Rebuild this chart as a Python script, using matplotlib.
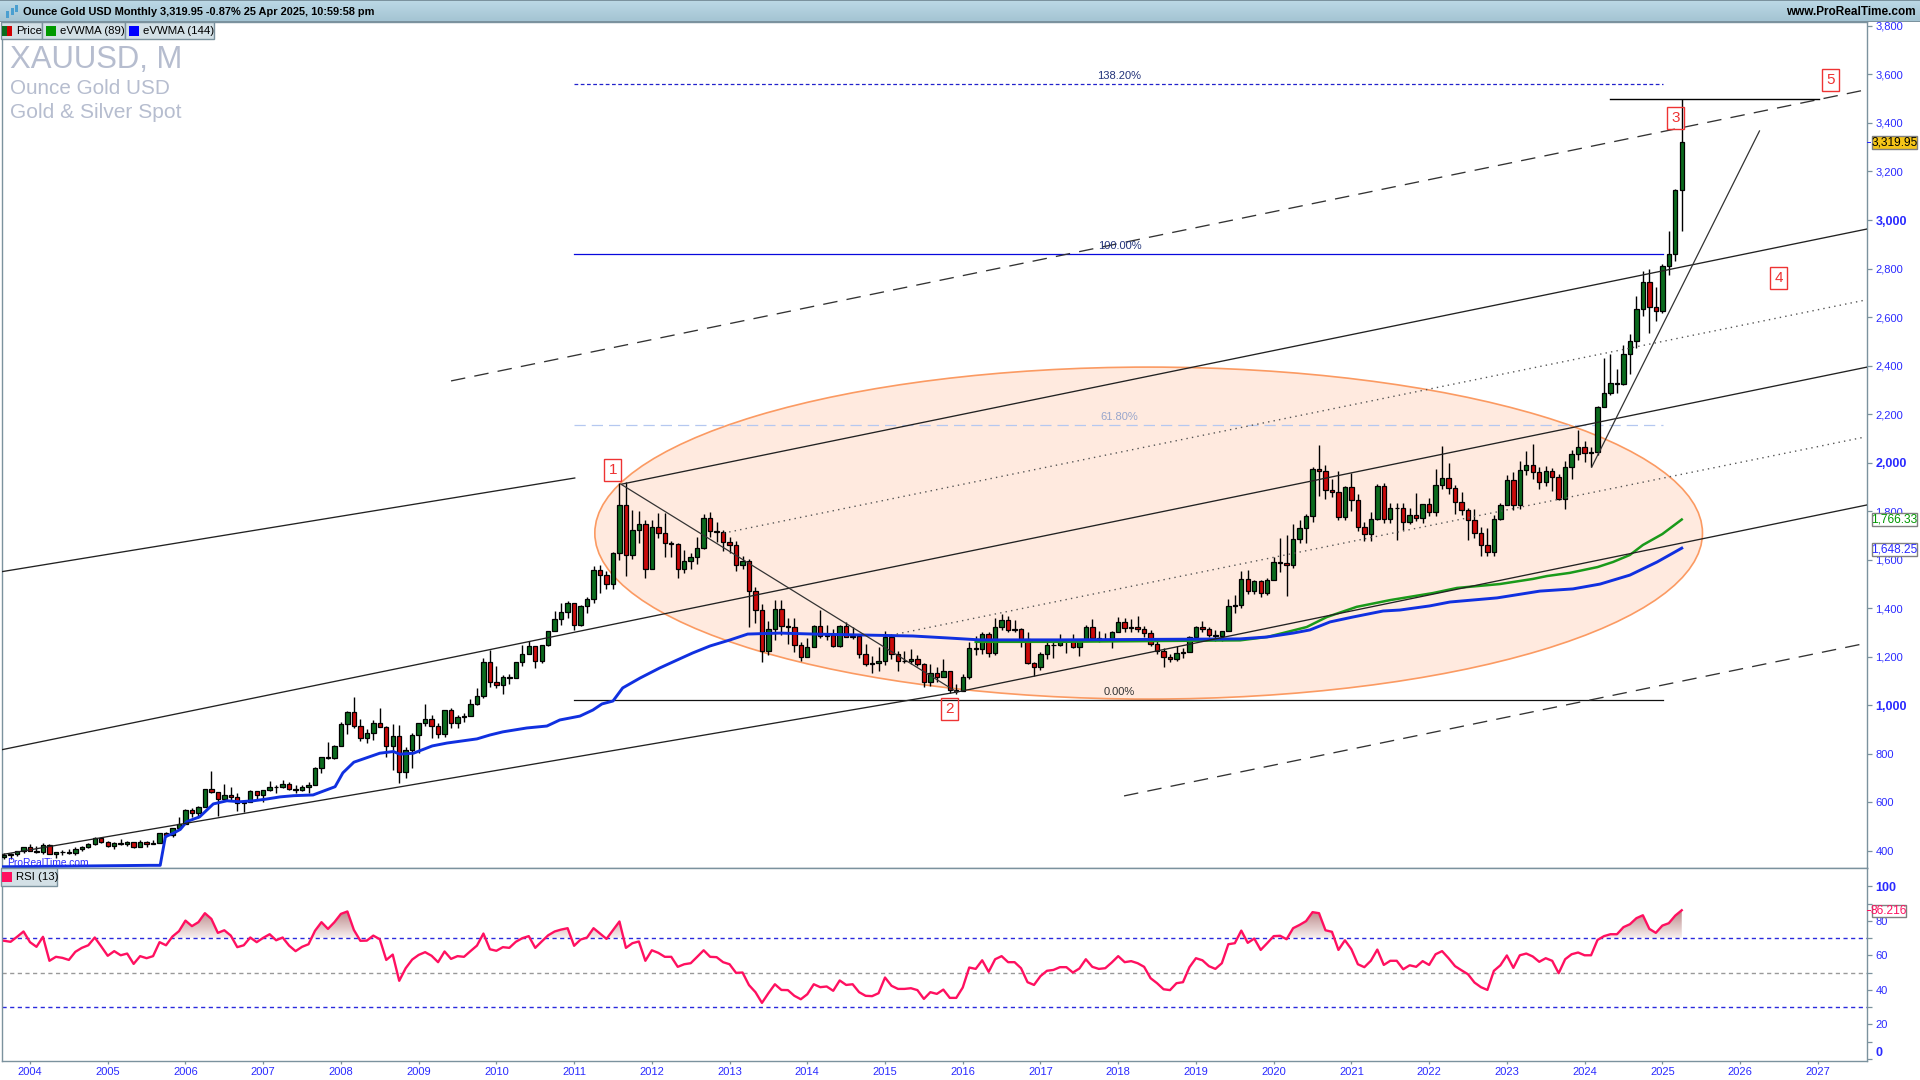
import matplotlib

matplotlib.use("Agg")
import matplotlib.pyplot as plt
import numpy as np
from matplotlib.colors import LinearSegmentedColormap
from matplotlib.patches import Ellipse, Rectangle
from matplotlib.path import Path

plt.rcParams["font.family"] = ["Liberation Sans", "DejaVu Sans"]

# Monthly candles, Sep 2003 to Apr 2025
closes = [
    385, 386, 398, 416,
    400, 397, 426, 388, 394, 396, 391, 408, 416, 428, 453, 438,
    422, 435, 428, 436, 415, 437, 429, 434, 473, 464, 495, 513,
    569, 556, 582, 654, 643, 614, 632, 624, 599, 604, 647, 632,
    650, 664, 662, 678, 657, 650, 665, 672, 743, 789, 783, 834,
    923, 972, 916, 864, 886, 926, 912, 832, 872, 724, 816, 880,
    927, 943, 916, 883, 980, 926, 953, 955, 1007, 1039, 1180, 1096,
    1083, 1118, 1113, 1179, 1213, 1244, 1181, 1248, 1307, 1357, 1386, 1421,
    1332, 1411, 1439, 1556, 1536, 1502, 1628, 1827, 1620, 1722, 1746, 1564,
    1737, 1711, 1669, 1664, 1560, 1597, 1610, 1648, 1774, 1719, 1713, 1675,
    1663, 1578, 1595, 1472, 1393, 1224, 1314, 1396, 1326, 1323, 1250, 1201,
    1240, 1326, 1284, 1291, 1246, 1327, 1282, 1287, 1210, 1172, 1176, 1184,
    1283, 1213, 1183, 1184, 1190, 1172, 1095, 1134, 1115, 1142, 1065, 1061,
    1118, 1238, 1232, 1293, 1215, 1322, 1351, 1309, 1316, 1272, 1173, 1159,
    1211, 1249, 1249, 1268, 1269, 1242, 1269, 1321, 1279, 1270, 1275, 1303,
    1345, 1318, 1325, 1315, 1299, 1253, 1223, 1201, 1192, 1215, 1222, 1282,
    1321, 1313, 1292, 1284, 1305, 1409, 1413, 1520, 1472, 1513, 1464, 1517,
    1589, 1585, 1577, 1687, 1730, 1781, 1975, 1967, 1886, 1879, 1777, 1898,
    1847, 1734, 1707, 1769, 1906, 1770, 1814, 1813, 1757, 1783, 1774, 1829,
    1796, 1909, 1937, 1896, 1837, 1807, 1766, 1711, 1660, 1633, 1768, 1824,
    1928, 1826, 1969, 1990, 1962, 1919, 1965, 1940, 1849, 1983, 2036, 2063,
    2039, 2044, 2230, 2286, 2327, 2326, 2447, 2503, 2634, 2744, 2643, 2624,
    2812, 2858, 3123, 3320,
]
highs = [
    391, 391, 400, 417,
    427, 420, 431, 429, 395, 404, 410, 415, 420, 431, 456, 457,
    442, 438, 449, 440, 435, 444, 440, 447, 476, 478, 496, 541,
    572, 577, 584, 655, 730, 643, 676, 664, 638, 612, 650, 648,
    653, 690, 670, 692, 683, 672, 672, 685, 745, 789, 848, 835,
    930, 975, 1033, 945, 904, 940, 988, 915, 925, 920, 830, 888,
    928, 1006, 960, 926, 980, 990, 960, 967, 1025, 1070, 1195, 1227,
    1162, 1125, 1128, 1180, 1249, 1266, 1245, 1250, 1308, 1388, 1424, 1431,
    1424, 1412, 1445, 1575, 1578, 1552, 1632, 1917, 1920, 1804, 1802, 1763,
    1765, 1792, 1792, 1679, 1668, 1641, 1628, 1693, 1787, 1796, 1755, 1723,
    1694, 1678, 1617, 1605, 1488, 1419, 1348, 1433, 1434, 1361, 1361, 1261,
    1279, 1332, 1392, 1332, 1315, 1332, 1345, 1324, 1288, 1255, 1205, 1239,
    1307, 1296, 1224, 1224, 1233, 1206, 1175, 1169, 1157, 1191, 1143, 1088,
    1128, 1263, 1285, 1304, 1303, 1362, 1375, 1367, 1352, 1317, 1304, 1180,
    1220, 1264, 1261, 1295, 1274, 1296, 1270, 1331, 1357, 1306, 1299, 1307,
    1366, 1361, 1356, 1369, 1326, 1309, 1265, 1238, 1212, 1243, 1237, 1284,
    1326, 1347, 1325, 1310, 1306, 1439, 1453, 1555, 1557, 1518, 1516, 1523,
    1611, 1689, 1704, 1747, 1765, 1789, 1984, 2075, 1992, 1933, 1966, 1906,
    1959, 1872, 1755, 1798, 1912, 1916, 1834, 1834, 1834, 1814, 1877, 1830,
    1853, 1974, 2070, 1998, 1909, 1879, 1814, 1808, 1735, 1730, 1786, 1833,
    1949, 1960, 2009, 2049, 2079, 1984, 1987, 1980, 1953, 2009, 2052, 2135,
    2088, 2065, 2235, 2431, 2450, 2387, 2483, 2531, 2685, 2790, 2800, 2726,
    2817, 2956, 3128, 3500,
]
lows = [
    369, 368, 381, 393,
    399, 391, 388, 386, 373, 385, 386, 384, 398, 411, 424, 433,
    415, 410, 424, 421, 414, 415, 417, 429, 433, 456, 456, 490,
    513, 539, 538, 580, 640, 543, 605, 610, 563, 562, 618, 610,
    603, 648, 637, 660, 651, 640, 646, 641, 672, 723, 780, 778,
    834, 884, 906, 855, 845, 859, 910, 786, 735, 681, 700, 740,
    802, 915, 865, 865, 870, 905, 905, 931, 955, 1000, 1030, 1075,
    1072, 1045, 1088, 1113, 1163, 1211, 1155, 1175, 1245, 1307, 1330, 1360,
    1309, 1329, 1380, 1420, 1463, 1478, 1478, 1600, 1532, 1603, 1668, 1523,
    1564, 1688, 1612, 1613, 1527, 1547, 1563, 1583, 1644, 1693, 1672, 1636,
    1626, 1555, 1562, 1321, 1338, 1180, 1208, 1271, 1291, 1251, 1221, 1182,
    1202, 1239, 1277, 1268, 1240, 1240, 1281, 1273, 1195, 1161, 1132, 1142,
    1167, 1191, 1142, 1175, 1169, 1162, 1077, 1080, 1098, 1115, 1052, 1046,
    1061, 1107, 1208, 1212, 1200, 1208, 1310, 1301, 1304, 1241, 1171, 1123,
    1146, 1190, 1195, 1244, 1214, 1238, 1204, 1267, 1271, 1261, 1264, 1236,
    1303, 1303, 1303, 1302, 1282, 1245, 1211, 1160, 1180, 1182, 1196, 1221,
    1276, 1303, 1281, 1266, 1266, 1305, 1382, 1400, 1459, 1459, 1445, 1454,
    1517, 1548, 1451, 1568, 1671, 1671, 1757, 1863, 1849, 1860, 1765, 1764,
    1802, 1717, 1677, 1677, 1762, 1750, 1750, 1682, 1722, 1746, 1759, 1753,
    1780, 1782, 1890, 1872, 1787, 1785, 1681, 1688, 1615, 1617, 1616, 1765,
    1824, 1804, 1810, 1950, 1932, 1893, 1903, 1884, 1848, 1810, 1931, 2010,
    2001, 1984, 2030, 2228, 2277, 2286, 2319, 2364, 2471, 2604, 2536, 2583,
    2615, 2772, 2830, 2955,
]
first_open = 375

# eVWMA lines, read at the bends: month index, price
evwma144_x = [-0.4, 22.5, 24.1, 24.9, 26.1, 27.2, 28.2, 30.2, 32.3, 34.4, 36.4, 38.5, 40.5, 42.6, 44.7,
              47.7, 51.1, 52.3, 54, 58, 60.1, 61.1, 63.2, 66.1, 68.4, 73, 75, 77, 80.7, 83.8, 85.8, 88.9,
              90.9, 92.3, 94, 95.5, 98.2, 101.2, 103.9, 106.3, 109, 112.1, 114.8, 119.8, 124.9, 132.6,
              140.3, 145.6, 150.6, 163, 190.8, 195, 199, 201.6, 204.7, 208.2, 212.9, 215.5, 220.1, 223.2,
              230.5, 237.1, 242.2, 246.4, 251, 255.2, 259]
evwma144_y = [335, 341, 341, 459, 473, 489, 521, 541, 594, 607, 603, 607, 614, 623, 628,
              631, 665, 722, 766, 803, 810, 799, 803, 833, 845, 862, 878, 891, 907, 915, 940, 956,
              981, 1006, 1018, 1072, 1113, 1154, 1187, 1216, 1245, 1270, 1294, 1298, 1294, 1290,
              1286, 1278, 1270, 1270, 1274, 1282, 1298, 1311, 1344, 1364, 1389, 1393, 1410, 1426,
              1443, 1471, 1480, 1500, 1537, 1591, 1648]
evwma89_x = [150, 163, 190.8, 195, 197.4, 201.1, 204.2, 208.8, 214, 220.6, 224.3, 230.9, 236, 238.2,
             241.7, 246, 248.4, 251, 253, 256, 259]
evwma89_y = [1262, 1262, 1268, 1282, 1298, 1323, 1364, 1406, 1434, 1463, 1484, 1500, 1521, 1533,
             1546, 1570, 1591, 1620, 1661, 1706, 1766]

rsi_values = [
    68.5, 67.9, 70.8, 73.9, 67.7, 65.0, 70.8, 56.9, 59.2, 58.6,
    57.4, 62.1, 64.4, 65.9, 70.4, 65.2, 59.8, 62.5, 60.1, 61.1,
    55.1, 59.6, 58.4, 59.6, 67.7, 65.9, 71.0, 74.1, 80.2, 77.0,
    79.3, 84.5, 81.2, 73.1, 74.6, 71.5, 64.8, 65.9, 70.4, 67.7,
    70.2, 72.3, 68.8, 70.4, 65.7, 62.5, 65.0, 66.5, 74.3, 79.3,
    75.4, 79.3, 84.1, 85.5, 74.8, 68.5, 68.6, 71.5, 69.4, 57.4,
    60.5, 45.3, 52.6, 57.6, 60.3, 61.9, 59.8, 56.1, 62.3, 58.0,
    59.6, 59.2, 62.5, 65.7, 72.7, 63.6, 62.7, 64.8, 64.4, 67.9,
    70.0, 71.2, 64.4, 68.1, 71.7, 73.9, 75.0, 75.8, 65.6, 69.2,
    70.4, 75.8, 72.7, 69.6, 74.6, 79.7, 64.4, 67.1,
    68.1, 56.9, 63.0, 61.5, 59.2, 59.2, 53.4, 54.9, 55.5, 59.2,
    63.0, 59.2, 59.0, 56.1, 54.9, 49.9, 50.1, 42.8, 38.7, 32.5,
    38.1, 43.3, 40.0, 39.9, 36.6, 34.6, 37.5, 43.3, 41.6, 42.0,
    39.5, 45.5, 42.9, 43.3, 38.7, 36.6, 36.4, 38.1, 47.2, 42.4,
    40.6, 40.6, 41.0, 39.9, 34.8, 38.7, 37.7, 40.2, 35.4, 35.4,
    41.4, 53.0, 52.2, 57.2, 50.5, 57.8, 59.6, 56.1, 56.1, 52.6,
    44.5, 42.9, 48.0, 51.1, 51.6, 53.2, 53.2, 50.1, 52.4, 57.8,
    53.4, 52.2, 52.6, 55.9, 59.6, 56.1, 56.7, 55.5, 53.4, 46.8,
    43.9, 40.4, 39.9, 43.9, 44.5, 53.2, 58.4, 57.2, 53.8, 52.2,
    55.5, 66.5, 67.1, 74.4, 67.3, 69.8, 63.2, 67.1, 71.2,
    71.4, 69.4, 75.8, 77.7, 79.9, 85.1, 84.5, 74.6, 73.7, 63.2,
    68.8, 63.6, 54.9, 53.2, 56.9, 63.4, 54.5, 56.9, 56.9, 52.0,
    54.3, 53.4, 56.7, 54.5, 60.7, 62.5, 58.4, 53.8, 51.4, 49.1,
    44.3, 41.6, 40.0, 51.1, 54.3, 60.0, 52.8, 60.1, 61.1, 59.4,
    56.3, 58.4, 56.9, 49.7, 57.8, 60.7, 61.7, 60.1, 60.1, 69.0,
    71.2, 72.3, 72.3, 76.4, 78.1, 81.6, 83.3, 75.4, 73.1, 77.3,
    78.7, 83.1, 86.2,
]

# Channel and trend lines: (x0, price0, x1, price1) with x in month index
solid_lines = [
    (-0.6, 1550, 88.1, 1937),
    (-0.6, 816, 287.6, 2394),
    (-0.6, 384, 147.1, 1055),
    (147.1, 1055, 287.6, 1826),
    (95.4, 1912, 287.6, 2963),
]
dotted_lines = [(111.1, 1710, 287.3, 2670), (137.8, 1294, 287.3, 2106)]
dashed_lines = [(69, 2337, 287.3, 3536), (172.9, 627, 287.6, 1257)]
thin_lines = [(95.2, 1912, 147.1, 1055), (245.1, 1982, 271, 3367)]
top_level_line = (248, 280.2, 3500)

fib_start, fib_end = 88, 256.1
fib_prices = [3559, 2860, 2155, 1022]
fib_labels = ["138.20%", "100.00%", "61.80%", "0.00%"]
fib_label_x = 172.2
fib_colors = ["#2222cc", "#0808dd", "#b5c8f0", "#111111"]
fib_styles = [(0, (3, 2)), "-", (0, (9, 4.8)), "-"]
fib_text_colors = ["#22337a", "#22337a", "#98a6cc", "#333333"]

wave_labels = ["1", "2", "3", "4", "5"]
wave_x = [94, 146, 258, 274, 282]
wave_y = [1970, 985, 3420, 2761, 3577]

price_ticks = list(range(400, 3801, 200))
bold_prices = [1000, 2000, 3000]
year_labels = list(range(2004, 2028))
rsi_ticks = [0, 20, 40, 60, 80, 100]
rsi_minor = [10, 30, 50, 70, 90]

BORDER = "#7b929e"
AXIS_BLUE = "#2a2aff"
WATERMARK = "#b6bdcf"


def fx(px):
    return px / 1920


def fy(py):
    return 1 - py / 1080


def axes_rect(left, top, right, bottom):
    return [fx(left), fy(bottom), (right - left) / 1920, (bottom - top) / 1080]


def draw_segments(ax, segments, **style):
    for x0, y0, x1, y1 in segments:
        ax.plot([x0, x1], [y0, y1], **style)


def px_box(fig, x0, y0, x1, y1, face, edge=None, lw=1.0, zorder=10):
    fig.add_artist(
        Rectangle((fx(x0), fy(y1)), (x1 - x0) / 1920, (y1 - y0) / 1080, transform=fig.transFigure,
                  facecolor=face, edgecolor=edge if edge else "none", linewidth=lw, zorder=zorder)
    )


def px_text(fig, x, y, text, size, color="black", ha="left", weight="normal", zorder=11):
    fig.text(fx(x), fy(y), text, fontsize=size, color=color, ha=ha, va="center", fontweight=weight, zorder=zorder)


idx = np.arange(len(closes))
closes_arr = np.array(closes, dtype=float)
opens_arr = np.concatenate([[first_open], closes_arr[:-1]])
highs_arr = np.array(highs, dtype=float)
lows_arr = np.array(lows, dtype=float)
rsi_arr = np.array(rsi_values)

fig = plt.figure(figsize=(19.2, 10.8), dpi=100, facecolor="white")
ax = fig.add_axes(axes_rect(1.5, 22, 1867, 868))
ax_rsi = fig.add_axes(axes_rect(1.5, 868, 1867, 1061))

xlim = (-0.4, 287.6)

# Price panel
ax.add_patch(Ellipse((176.7, 1710), 171, 1368, facecolor="#ffeadf", edgecolor="#fb9a62", linewidth=1.2, zorder=1))

for price, color, style in zip(fib_prices, fib_colors, fib_styles):
    ax.plot([fib_start, fib_end], [price, price], color=color, linestyle=style, linewidth=0.9, zorder=2)
for price, label, color in zip(fib_prices, fib_labels, fib_text_colors):
    ax.text(fib_label_x, price + 12, label, fontsize=8, color=color, ha="center", va="bottom", zorder=7)

up = closes_arr >= opens_arr
ax.vlines(idx, lows_arr, highs_arr, color="black", linewidth=1.0, zorder=3)
ax.bar(idx, np.abs(closes_arr - opens_arr), bottom=np.minimum(opens_arr, closes_arr), width=0.68,
       color=np.where(up, "#0b6b1e", "#cc0a0a"), edgecolor="black", linewidth=0.9, zorder=3.5)

ax.plot(evwma89_x, evwma89_y, color="#1a9a1a", linewidth=1.8, zorder=4)
ax.plot(evwma144_x, evwma144_y, color="#1030e0", linewidth=2.1, zorder=4.2)

draw_segments(ax, solid_lines, color="#222222", linewidth=0.95, zorder=5)
draw_segments(ax, dotted_lines, color="#555555", linewidth=1.0, linestyle=(0, (1, 3)), zorder=5)
draw_segments(ax, dashed_lines, color="#333333", linewidth=0.95, linestyle=(0, (11, 7)), zorder=5)
draw_segments(ax, thin_lines, color="#333333", linewidth=0.9, zorder=5)
ax.plot(top_level_line[:2], [top_level_line[2]] * 2, color="black", linewidth=1.0, zorder=5)

for label, x, y in zip(wave_labels, wave_x, wave_y):
    ax.text(x, y, label, fontsize=11, color="#ee3333", ha="center", va="center", zorder=8,
            bbox=dict(boxstyle="square,pad=0.28", facecolor="none", edgecolor="#ee3333", linewidth=1.0))

ax.set_xlim(*xlim)
ax.set_ylim(330, 3816)
ax.set_xticks([])
ax.yaxis.tick_right()
ax.set_yticks(price_ticks)
ax.set_yticklabels([f"{p:,}" for p in price_ticks])
ax.tick_params(axis="y", length=3.5, width=0.9, color=BORDER, labelcolor=AXIS_BLUE, labelsize=8, pad=2.5)
for tick_label, p in zip(ax.get_yticklabels(), price_ticks):
    if p in bold_prices:
        tick_label.set_fontweight("bold")
        tick_label.set_fontsize(9)
for spine in ax.spines.values():
    spine.set_color(BORDER)
    spine.set_linewidth(1.0)

ax.text(0.003, 0.0, "ProRealTime.com", transform=ax.transAxes, fontsize=7.4, color="#2a2aff", va="bottom", zorder=6)

# RSI panel
for level, color in zip([70, 50, 30], ["#2a2add", "#999999", "#2a2add"]):
    ax_rsi.axhline(level, color=color, linewidth=1.0, linestyle=(0, (3, 2.5)), zorder=2)
fill = ax_rsi.fill_between(idx, 70, rsi_arr, where=rsi_arr >= 70, interpolate=True, color="none", zorder=1)
gradient = ax_rsi.imshow(np.linspace(0, 1, 64).reshape(-1, 1), extent=(xlim[0], xlim[1], 70, 87), origin="lower",
                         aspect="auto", cmap=LinearSegmentedColormap.from_list("rsi", ["#f8f0f0", "#b57f7f"]),
                         zorder=1)
gradient.set_clip_path(Path.make_compound_path(*fill.get_paths()), transform=ax_rsi.transData)
ax_rsi.plot(idx, rsi_arr, color="#ff1060", linewidth=1.7, zorder=3)

ax_rsi.set_xlim(*xlim)
ax_rsi.set_ylim(-1.2, 110.7)
year_ticks = [4 + 12 * i for i in range(len(year_labels))]
ax_rsi.set_xticks(year_ticks)
ax_rsi.set_xticklabels([str(y) for y in year_labels])
ax_rsi.tick_params(axis="x", length=2.5, width=0.9, color=BORDER, labelcolor=AXIS_BLUE, labelsize=8, pad=2)
ax_rsi.yaxis.tick_right()
ax_rsi.set_yticks(rsi_ticks)
ax_rsi.set_yticks(rsi_minor, minor=True)
ax_rsi.set_yticklabels([str(v) for v in rsi_ticks])
ax_rsi.tick_params(axis="y", which="both", length=3.5, width=0.9, color=BORDER, labelcolor=AXIS_BLUE, labelsize=8, pad=2.5)
for tick_label, v in zip(ax_rsi.get_yticklabels(), rsi_ticks):
    if v == 100 or v == 0:
        tick_label.set_fontweight("bold")
        tick_label.set_fontsize(9)
    if v == 0:
        tick_label.set_verticalalignment("bottom")
for spine in ax_rsi.spines.values():
    spine.set_color(BORDER)
    spine.set_linewidth(1.0)

# Header bar and legends
header = fig.add_axes(axes_rect(0, 0, 1920, 22), zorder=9)
header.imshow(np.linspace(0, 1, 32).reshape(-1, 1), aspect="auto",
              cmap=LinearSegmentedColormap.from_list("hdr", ["#bcd9e6", "#a3c3d2"]))
header.set_axis_off()
px_box(fig, 0, 0, 1920, 1, BORDER)
px_box(fig, 0, 21, 1920, 22, BORDER)
px_box(fig, 6, 11, 9, 18, "#4a9fd0")
px_box(fig, 11, 8, 14, 15, "#4a9fd0")
px_box(fig, 15, 5, 18, 12, "#4a9fd0")
px_text(fig, 23, 12, "Ounce Gold USD Monthly 3,319.95 -0.87% 25 Apr 2025, 10:59:58 pm", 7.9, weight="bold")
px_text(fig, 1916, 12, "www.ProRealTime.com", 8.45, ha="right", weight="bold")

for x0, x1 in [(0.5, 42), (42, 125), (125, 214)]:
    px_box(fig, x0, 22, x1, 39, "#d3e0e6", BORDER)
px_box(fig, 2, 26, 7, 36, "#0a6e1e", zorder=12)
px_box(fig, 7, 26, 12, 36, "#d00000", zorder=12)
px_box(fig, 46, 26, 56, 36, "#009900", zorder=12)
px_box(fig, 129, 26, 139, 36, "#0000ff", zorder=12)
px_text(fig, 16, 31, "Price", 8.2, zorder=12)
px_text(fig, 60, 31, "eVWMA (89)", 8.2, zorder=12)
px_text(fig, 143, 31, "eVWMA (144)", 8.2, zorder=12)

px_text(fig, 10, 60.5, "XAUUSD, M", 22.4, WATERMARK)
px_text(fig, 10, 89, "Ounce Gold USD", 14.9, WATERMARK)
px_text(fig, 10, 113, "Gold & Silver Spot", 15.1, WATERMARK)

px_box(fig, 0.5, 868, 57, 886, "#d3e0e6", BORDER)
px_box(fig, 2, 872, 12, 882, "#ff1060", zorder=12)
px_text(fig, 16, 877, "RSI (13)", 8.2, zorder=12)

# Last value tags on the right axis
px_box(fig, 1872, 136, 1917, 149, "#f5c518", "#808080")
px_text(fig, 1894.5, 142.7, "3,319.95", 8.6, ha="center")
px_box(fig, 1867, 142, 1871, 143, "#2a2aff")
px_box(fig, 1872, 513, 1917, 526, "white", "#808080")
px_text(fig, 1894.5, 519.7, "1,766.33", 8.6, "#009900", ha="center")
px_box(fig, 1872, 543, 1917, 556, "white", "#808080")
px_text(fig, 1894.5, 549.7, "1,648.25", 8.6, "#2a2aff", ha="center")
px_box(fig, 1872, 905, 1906, 917, "white", "#808080")
px_text(fig, 1889, 911.5, "86.216", 8.6, "#ff1060", ha="center")
px_box(fig, 1867, 910, 1871, 911, "#ff1060")

fig.savefig("out.png", dpi=100)
